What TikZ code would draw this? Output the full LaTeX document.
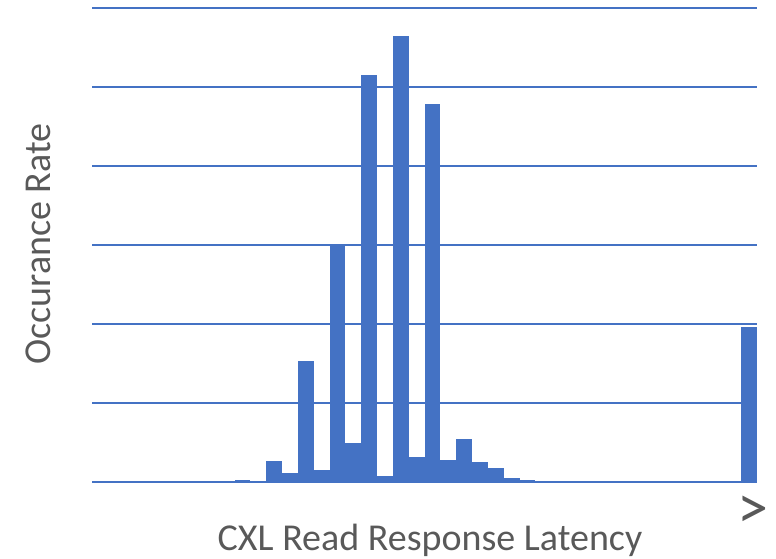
\documentclass[tikz,border=0pt]{standalone}
\usepackage{fontspec}
\setmainfont{Carlito}
\usetikzlibrary{positioning}
\definecolor{barblue}{HTML}{4472C4}
\definecolor{labelgray}{HTML}{595959}

\begin{document}
\begin{tikzpicture}[x=1pt,y=1pt]
	\pgfmathsetmacro{\BinWidth}{665/42}
	\pgfmathsetmacro{\GridStep}{79}
	\useasboundingbox (0,0) rectangle (776,559);
	\coordinate (Origin) at (92,77);
	\coordinate (AxisEnd) at (757,77);
	\foreach \k in {1,...,6}
		\draw [barblue, line width=1.5pt] (92,77+\k*\GridStep) -- (757,77+\k*\GridStep);
	\foreach \bin/\h in {9/2, 11/21, 12/9, 13/121, 14/12, 15/238, 16/39, 17/407, 18/6, 19/446, 20/25, 21/378, 22/22, 23/43, 24/20, 25/14, 26/4, 27/2, 34/1, 38/1, 41/155}
		\fill [barblue] (92+\bin*\BinWidth,77) rectangle ++(\BinWidth,\h);
	\draw [barblue, line width=1.5pt] (Origin) -- (AxisEnd);
	\node [labelgray, font=\fontsize{38}{40}\selectfont, rotate=90] (YLabel) at (38,315) {Occurance Rate};
	\node [labelgray, font=\fontsize{38}{40}\selectfont] (XLabel) at (430,19) {CXL Read Response Latency};
	\node [labelgray, font=\fontsize{62}{64}\selectfont] (MoreMark) at (753,47) {>};
\end{tikzpicture}
\end{document}
